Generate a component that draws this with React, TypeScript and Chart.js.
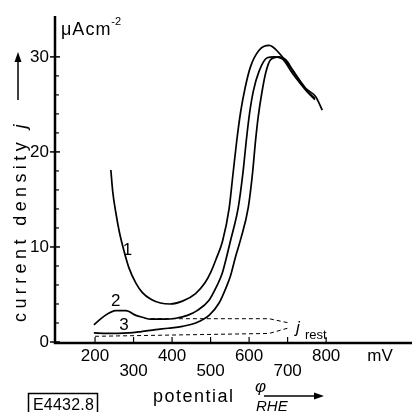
import React, { useEffect, useRef } from "react";
import { Chart, registerables } from "chart.js";

Chart.register(...registerables);

// ---- data (potential in mV vs RHE, current density in µA cm^-2) ----
const curve1X = [241, 246, 254, 263, 275, 288, 306, 323, 345, 370, 395, 427, 461, 485, 500, 515, 531, 548, 558, 568, 578, 590, 604, 626, 652, 678, 712, 747, 773, 790];
const curve1Y = [18.1, 15.8, 13.6, 11.6, 9.6, 7.8, 6.2, 5.2, 4.5, 4.1, 4.0, 4.3, 5.1, 6.2, 7.3, 8.8, 10.6, 14.0, 17.6, 21.2, 24.2, 26.8, 29.0, 30.7, 31.2, 30.4, 28.6, 26.7, 25.8, 24.4];

const curve2X = [197, 223, 254, 280, 306, 323, 345, 380, 410, 440, 465, 496, 515, 530, 540, 552, 572, 584, 593, 601, 611, 626, 647, 665, 686, 712, 747, 771];
const curve2Y = [1.8, 2.7, 3.3, 3.3, 2.8, 2.6, 2.4, 2.4, 2.5, 2.8, 3.3, 4.4, 5.8, 7.2, 8.7, 10.7, 14.2, 17.8, 21.3, 24.0, 26.4, 28.5, 29.9, 30.0, 29.8, 28.3, 26.5, 25.5];

const curve3X = [197, 230, 260, 288, 320, 357, 390, 427, 461, 496, 522, 540, 552, 565, 578, 598, 609, 617, 624, 633, 643, 656, 678, 695, 712, 747, 771];
const curve3Y = [0.95, 0.9, 0.9, 0.95, 1.1, 1.3, 1.45, 1.65, 2.0, 2.8, 4.1, 5.7, 7.0, 9.0, 10.8, 14.2, 17.8, 21.3, 23.8, 26.2, 28.3, 29.7, 30.0, 29.7, 28.7, 26.6, 25.6];

const restUpperX = [345, 652, 704];
const restUpperY = [2.45, 2.45, 2.0];
const restLowerX = [200, 652, 700];
const restLowerY = [0.6, 0.9, 1.45];

const xTickValues = [200, 300, 400, 500, 600, 700, 800];
const xTickLabels = ["200", "300", "400", "500", "600", "700", "800"];
const yMajorTicks = [0, 10, 20, 30];
const yMajorLabels = ["0", "10", "20", "30"];
const yMinorTicks = [2, 4, 6, 8, 12, 14, 16, 18, 22, 24, 26, 28];

const curveLabels = ["1", "2", "3"];
const curveLabelAt = [
  [284, 9.6],
  [254, 4.3],
  [275, 1.8],
];

const FONT = "'Liberation Sans', Arial, sans-serif";

function toPts(xs: number[], ys: number[]) {
  return xs.map((x, i) => ({ x, y: ys[i] }));
}

function spacedText(ctx: CanvasRenderingContext2D, text: string, x: number, y: number, spacing: number) {
  let cx = x;
  for (const ch of text) {
    ctx.fillText(ch, cx, y);
    cx += ctx.measureText(ch).width + spacing;
  }
  return cx;
}

const decor = {
  id: "decor",
  afterDraw(chart: any) {
    const ctx: CanvasRenderingContext2D = chart.ctx;
    const xs = chart.scales.x;
    const ys = chart.scales.y;
    const area = chart.chartArea;
    const x0 = area.left;
    const y0 = ys.getPixelForValue(0);
    ctx.save();
    ctx.fillStyle = "#000";
    ctx.strokeStyle = "#000";

    // axes
    ctx.lineWidth = 2.5;
    ctx.beginPath();
    ctx.moveTo(x0, area.top);
    ctx.lineTo(x0, y0 + 1);
    ctx.lineTo(area.right, y0 + 1);
    ctx.stroke();

    // y ticks
    ctx.lineWidth = 1.5;
    for (const v of yMajorTicks) {
      const py = ys.getPixelForValue(v);
      ctx.beginPath();
      ctx.moveTo(x0 - 5, py);
      ctx.lineTo(x0 + 5, py);
      ctx.stroke();
    }
    ctx.lineWidth = 1.2;
    for (const v of yMinorTicks) {
      const py = ys.getPixelForValue(v);
      ctx.beginPath();
      ctx.moveTo(x0, py);
      ctx.lineTo(x0 + 4, py);
      ctx.stroke();
    }
    // x ticks
    for (const v of xTickValues) {
      const px = xs.getPixelForValue(v);
      ctx.beginPath();
      ctx.moveTo(px, y0);
      ctx.lineTo(px, y0 - 5);
      ctx.stroke();
    }

    // y tick labels
    ctx.font = `17px ${FONT}`;
    ctx.textAlign = "right";
    ctx.textBaseline = "middle";
    yMajorTicks.forEach((v, i) => {
      ctx.fillText(yMajorLabels[i], x0 - 6, ys.getPixelForValue(v));
    });
    // x tick labels (staggered)
    ctx.textAlign = "center";
    xTickValues.forEach((v, i) => {
      const off = i % 2 === 0 ? 14 : 29;
      ctx.fillText(xTickLabels[i], xs.getPixelForValue(v), y0 + off);
    });
    ctx.fillText("mV", 380, y0 + 14);

    // curve numbers
    curveLabels.forEach((t, i) => {
      ctx.fillText(t, xs.getPixelForValue(curveLabelAt[i][0]), ys.getPixelForValue(curveLabelAt[i][1]));
    });

    // j_rest
    ctx.textAlign = "left";
    ctx.textBaseline = "alphabetic";
    ctx.font = `italic 17px ${FONT}`;
    ctx.fillText("j", 296, 333);
    ctx.font = `13px ${FONT}`;
    ctx.fillText("rest", 305, 339);

    // unit at top
    ctx.font = `18px ${FONT}`;
    const w = spacedText(ctx, "\u03bcAcm", 61, 35, 1);
    ctx.font = `11px ${FONT}`;
    ctx.fillText("-2", w, 25);

    // y-axis title (rotated) with arrow
    ctx.save();
    ctx.translate(26, 322);
    ctx.rotate(-Math.PI / 2);
    ctx.font = `18px ${FONT}`;
    ctx.textBaseline = "alphabetic";
    const end = spacedText(ctx, "current density ", 0, 0, 4.4);
    ctx.font = `italic 18px ${FONT}`;
    ctx.fillText("j", end, 0);
    ctx.restore();
    ctx.lineWidth = 1.5;
    ctx.beginPath();
    ctx.moveTo(18, 100);
    ctx.lineTo(18, 60);
    ctx.stroke();
    ctx.beginPath();
    ctx.moveTo(18, 52);
    ctx.lineTo(14.5, 62);
    ctx.lineTo(21.5, 62);
    ctx.closePath();
    ctx.fill();

    // x-axis title
    ctx.font = `18px ${FONT}`;
    spacedText(ctx, "potential", 153, 402, 1.5);
    ctx.font = `italic 17px ${FONT}`;
    ctx.fillText("\u03c6", 255, 392);
    ctx.font = `italic 15px ${FONT}`;
    ctx.fillText("RHE", 256, 411);
    ctx.lineWidth = 1.5;
    ctx.beginPath();
    ctx.moveTo(264, 396);
    ctx.lineTo(316, 396);
    ctx.stroke();
    ctx.beginPath();
    ctx.moveTo(324, 396);
    ctx.lineTo(314, 392.5);
    ctx.lineTo(314, 399.5);
    ctx.closePath();
    ctx.fill();

    // figure code box
    ctx.lineWidth = 1.5;
    ctx.strokeRect(28.5, 393.5, 69, 24);
    ctx.font = `16px ${FONT}`;
    spacedText(ctx, "E4432.8", 33, 410, 0.2);

    ctx.restore();
  },
};

export default function App() {
  const ref = useRef<HTMLCanvasElement | null>(null);
  useEffect(() => {
    if (!ref.current) return;
    const line = (xs: number[], ys: number[]) => ({
      data: toPts(xs, ys),
      borderColor: "#000",
      borderWidth: 1.7,
      pointRadius: 0,
      fill: false,
      cubicInterpolationMode: "monotone",
    });
    const dashed = (xs: number[], ys: number[]) => ({
      data: toPts(xs, ys),
      borderColor: "#000",
      borderWidth: 1,
      borderDash: [4, 3],
      pointRadius: 0,
      fill: false,
      tension: 0,
    });
    const chart = new Chart(ref.current, {
      type: "line",
      data: {
        datasets: [
          line(curve1X, curve1Y),
          line(curve2X, curve2Y),
          line(curve3X, curve3Y),
          dashed(restUpperX, restUpperY),
          dashed(restLowerX, restLowerY),
        ] as any,
      },
      options: {
        animation: false,
        responsive: false,
        devicePixelRatio: 1,
        layout: { padding: { left: 55, right: 0, top: 16, bottom: 70 } },
        plugins: { legend: { display: false }, tooltip: { enabled: false } },
        scales: {
          x: { type: "linear", min: 96, max: 1023, display: false },
          y: { type: "linear", min: 0, max: 34.3, display: false },
        },
      },
      plugins: [decor],
    });
    return () => chart.destroy();
  }, []);
  return (
    <div style={{ position: "fixed", left: 0, top: 0, width: 412, height: 412, background: "#fff" }}>
      <canvas ref={ref} width={412} height={412} style={{ display: "block" }} />
    </div>
  );
}
